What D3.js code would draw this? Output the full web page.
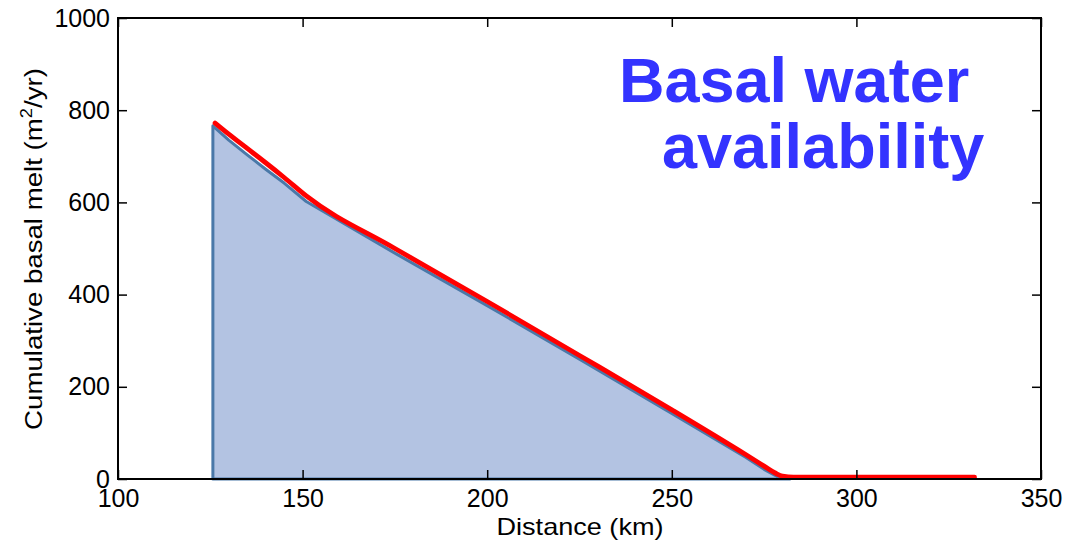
<!DOCTYPE html>
<html>
<head>
<meta charset="utf-8">
<script src="https://cdn.jsdelivr.net/npm/d3@7"></script>
<style>
  html, body { margin: 0; padding: 0; background: #ffffff; }
  svg { display: block; }
  text { font-family: "Liberation Sans", Arial, Helvetica, sans-serif; }
</style>
</head>
<body>
<svg id="chart" width="1088" height="542"></svg>
<script>
// ---- data ----
const blueDist = [125.7, 130, 135, 140, 145, 151, 175, 200, 225, 250, 270, 275, 278, 280, 282];
const blueMelt = [766, 735, 703, 672, 642, 602, 490, 376, 260, 142, 47, 21, 8, 2, 0];
const redDist  = [126.3, 130, 135, 140, 145, 151, 175, 200, 225, 250, 270, 275, 278, 280, 283, 300, 332];
const redMelt  = [772, 748, 717, 686, 654, 614, 500, 385, 268, 150, 53, 28, 13, 6, 4, 4, 4];
const xTicks = [100, 150, 200, 250, 300, 350];
const yTicks = [0, 200, 400, 600, 800, 1000];
const xTitle = "Distance (km)";
const yTitleMain = "Cumulative basal melt (m";
const yTitleSup = "2";
const yTitleEnd = "/yr)";
const titleLines = ["Basal water", "availability"];

// ---- layout ----
const svg = d3.select("#chart");
const pLeft = 118, pRight = 1041, pTop = 18, pBottom = 479;
const x = d3.scaleLinear().domain([100, 350]).range([pLeft, pRight]);
const y = d3.scaleLinear().domain([0, 1000]).range([pBottom, pTop]);

const blue = blueDist.map((d, i) => ({dist: d, melt: blueMelt[i]}));
const red = redDist.map((d, i) => ({dist: d, melt: redMelt[i]}));

// area
const area = d3.area().x(d => x(d.dist)).y0(y(0)).y1(d => y(d.melt));
svg.append("path").datum(blue)
  .attr("d", area)
  .attr("fill", "#b3c3e2")
  .attr("stroke", "#4a78a8")
  .attr("stroke-width", 3)
  .attr("stroke-linejoin", "round");

// red line
const line = d3.line().x(d => x(d.dist)).y(d => y(d.melt)).curve(d3.curveMonotoneX);
svg.append("path").datum(red)
  .attr("d", line)
  .attr("fill", "none")
  .attr("stroke", "#ff0000")
  .attr("stroke-width", 4.8)
  .attr("stroke-linejoin", "round")
  .attr("stroke-linecap", "round");

// axes
const fs = 25;
function styleAxis(g) {
  g.select(".domain").remove();
  g.selectAll(".tick line").attr("stroke", "#000").attr("stroke-width", 1.5);
  g.selectAll("text").attr("fill", "#000").style("font-size", fs + "px")
    .style("font-family", '"Liberation Sans", Arial, sans-serif');
}
svg.append("g").attr("transform", `translate(0,${pBottom})`)
  .call(d3.axisBottom(x).tickValues(xTicks).tickSize(-9).tickSizeOuter(0).tickPadding(10).tickFormat(d3.format("d")))
  .call(styleAxis);
svg.append("g").attr("transform", `translate(${pLeft},0)`)
  .call(d3.axisLeft(y).tickValues(yTicks).tickSize(-9).tickSizeOuter(0).tickPadding(8).tickFormat(d3.format("d")))
  .call(styleAxis);
svg.append("g").attr("transform", `translate(0,${pTop})`)
  .call(d3.axisTop(x).tickValues(xTicks).tickSize(-9).tickSizeOuter(0).tickFormat(""))
  .call(styleAxis);
svg.append("g").attr("transform", `translate(${pRight},0)`)
  .call(d3.axisRight(y).tickValues(yTicks).tickSize(-9).tickSizeOuter(0).tickFormat(""))
  .call(styleAxis);

// frame
svg.append("rect")
  .attr("x", pLeft).attr("y", pTop)
  .attr("width", pRight - pLeft).attr("height", pBottom - pTop)
  .attr("fill", "none").attr("stroke", "#000").attr("stroke-width", 2);

// axis titles (slightly wide lettering, as in the reference)
const xt = svg.append("text")
  .attr("text-anchor", "middle")
  .style("font-size", "24px")
  .text(xTitle);
const xw = xt.node().getBBox().width;
xt.attr("transform", `translate(580,535) scale(${167 / xw},1)`);

const yt = svg.append("text")
  .attr("text-anchor", "middle")
  .style("font-size", "24px");
yt.append("tspan").text(yTitleMain);
yt.append("tspan").text(yTitleSup).attr("dy", -10).style("font-size", "16px");
yt.append("tspan").text(yTitleEnd).attr("dy", 10);
const yw = yt.node().getBBox().width;
yt.attr("transform", `translate(42,249) rotate(-90) scale(${362 / yw},1)`);

// big title
const tt = svg.append("g")
  .style("font-size", "63px").style("font-weight", "bold").attr("fill", "#3333ff");
tt.append("text").attr("x", 619).attr("y", 102).text(titleLines[0]);
tt.append("text").attr("x", 662).attr("y", 168).text(titleLines[1]);
</script>
</body>
</html>
